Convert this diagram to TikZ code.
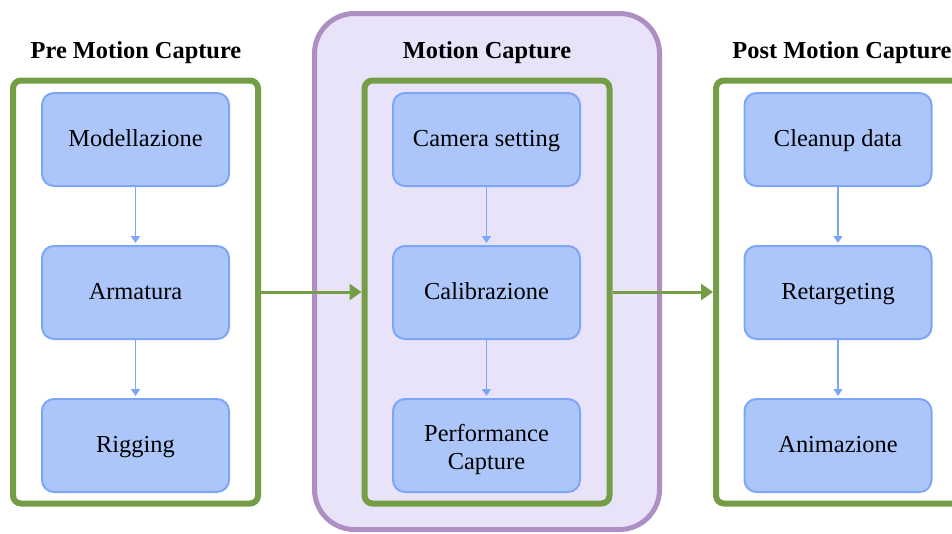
\documentclass[tikz,border=0pt]{standalone}
\usepackage{fontspec}
\setmainfont{Liberation Serif}
\usetikzlibrary{arrows.meta}
\definecolor{stepfill}{HTML}{ADC6FA}
\definecolor{stepline}{HTML}{7EA6F8}
\definecolor{groupline}{HTML}{739E45}
\definecolor{stagefill}{HTML}{E9E3FA}
\definecolor{stageline}{HTML}{AD8FC4}
\tikzset{
  stepbox/.style={draw=stepline, fill=stepfill, line width=2pt, rounded corners=12pt,
    minimum width=187pt, minimum height=93pt, align=center, inner sep=2pt,
    font=\fontsize{24.4}{29}\selectfont},
  oneline/.style={text height=18pt, text depth=4pt},
  groupbox/.style={draw=groupline, line width=6pt, rounded corners=8pt,
    minimum width=245pt, minimum height=423pt, inner sep=0pt},
  stagebox/.style={draw=stageline, fill=stagefill, line width=5pt, rounded corners=40pt,
    minimum width=345pt, minimum height=516pt, inner sep=0pt},
  title/.style={font=\fontsize{24.4}{28}\selectfont\bfseries, text height=17pt, text depth=5pt},
  flow/.style={draw=stepline, line width=1.5pt, -{Triangle[width=9pt,length=7pt]}, shorten >=2pt},
  stageflow/.style={draw=groupline, line width=3pt, -{Triangle[width=16pt,length=12pt]}}
}
\begin{document}
\begin{tikzpicture}[x=1pt,y=-1pt]
  \useasboundingbox (0,0) rectangle (952,533);

  % middle stage background
  \node[stagebox] (stage) at (487,271.5) {};

  % titles
  \node[title] (tpre)  at (136,52) {Pre Motion Capture};
  \node[title] (tmid)  at (487,52) {Motion Capture};
  \node[title] (tpost) at (842,52) {Post Motion Capture};

  % group frames
  \node[groupbox] (gpre)  at (135.5,292) {};
  \node[groupbox] (gmid)  at (487,292) {};
  \node[groupbox] (gpost) at (838.5,292) {};

  % pre motion capture steps
  \node[stepbox, oneline] (mod) at (135.5,139.5) {Modellazione};
  \node[stepbox, oneline] (arm) at (135.5,292.5) {Armatura};
  \node[stepbox, oneline] (rig) at (135.5,445.5) {Rigging};

  % motion capture steps
  \node[stepbox, oneline] (cam) at (486.5,139.5) {Camera setting};
  \node[stepbox, oneline] (cal) at (486.5,292.5) {Calibrazione};
  \node[stepbox] (perf) at (486.5,445.5) {\rule{0pt}{26pt}Performance\\[-1pt]Capture};

  % post motion capture steps
  \node[stepbox, oneline] (clean) at (838,139.5) {Cleanup data};
  \node[stepbox, oneline] (ret)   at (838,292.5) {Retargeting};
  \node[stepbox, oneline] (anim)  at (838,445.5) {Animazione};

  % arrows within groups
  \draw[flow] (mod) -- (arm);
  \draw[flow] (arm) -- (rig);
  \draw[flow] (cam) -- (cal);
  \draw[flow] (cal) -- (perf);
  \draw[flow] (clean) -- (ret);
  \draw[flow] (ret) -- (anim);

  % arrows between groups
  \draw[stageflow] (gpre.east) -- (gmid.west);
  \draw[stageflow] (gmid.east) -- (gpost.west);
\end{tikzpicture}
\end{document}
